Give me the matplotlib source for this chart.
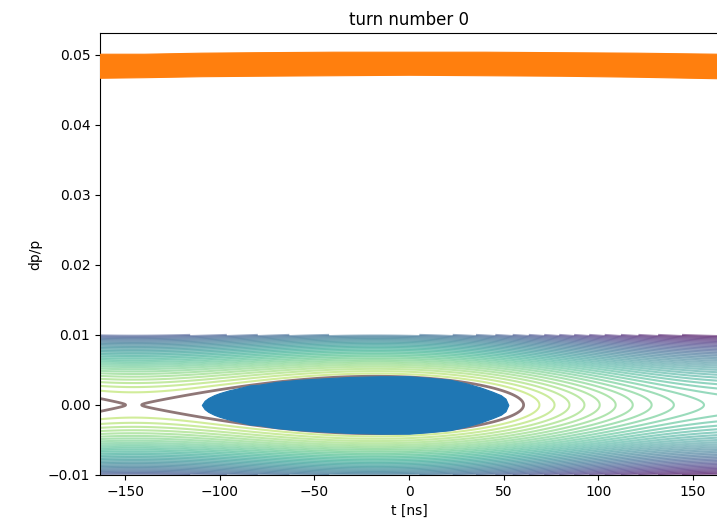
import numpy as np
import matplotlib
matplotlib.use("Agg")
import matplotlib.pyplot as plt
from matplotlib.colors import Normalize

# ---------------- data ----------------
# RF bucket model parameters (read from separatrix geometry)
rf_period_ns = 329.0      # distance between unstable fixed points
phi_s = 0.35              # synchronous phase [rad]
t_center = -17.7          # stable fixed point [ns]
dp_sep = 0.0041           # separatrix half height
sep_gap = 0.0031          # separatrix level offset below saddle (open X-point)
n_levels = 42             # contour levels above the separatrix
t_range = (-163.3, 163.3)
dp_range = (-0.01, 0.01)

# blue particle cloud outline (t [ns], half height in dp/p)
blob_t = [-109.5, -108.0, -106.0, -103.0, -100.0, -95.0, -90.0, -84.0, -79.0,
          -70.0, -58.0, -45.0, -31.0, -15.0, 0.0, 10.0, 21.8, 30.0, 37.8,
          44.0, 48.5, 51.0, 52.5]
blob_h = [0.0, 0.0006, 0.0010, 0.0014, 0.0017, 0.0021, 0.0024, 0.0028, 0.0029,
          0.0033, 0.0036, 0.0038, 0.0040, 0.0041, 0.0041, 0.0039, 0.0036, 0.0031, 0.0025,
          0.0019, 0.0014, 0.0009, 0.0]

# orange particle band (t [ns], lower / upper dp/p)
band_t = [-163.3, -140.0, -110.0, -80.0, -40.0, 0.0, 40.0, 80.0, 120.0, 163.3]
band_lo = [0.04671, 0.04679, 0.04693, 0.04700, 0.04707, 0.04714, 0.04707, 0.04700, 0.04686, 0.04664]
band_hi = [0.05014, 0.05014, 0.05029, 0.05036, 0.05043, 0.05043, 0.05043, 0.05036, 0.05029, 0.05014]

x_ticks = [-150, -100, -50, 0, 50, 100, 150]
y_ticks = [-0.01, 0.00, 0.01, 0.02, 0.03, 0.04, 0.05]

# ---------------- Hamiltonian field ----------------
omega = 2 * np.pi / rf_period_ns
sin_s = np.sin(phi_s)

def potential(t):
    phi = phi_s - omega * (np.asarray(t) - t_center)
    return -np.cos(phi) - phi * sin_s

f_min = potential(t_center)
t_x = t_center - (np.pi - 2 * phi_s) / omega
f_x = potential(t_x)
A = (f_x - f_min) / dp_sep ** 2

tt = np.linspace(t_range[0], t_range[1], 500)
dd = np.linspace(dp_range[0], dp_range[1], 300)
T, D = np.meshgrid(tt, dd)
H = A * D ** 2 + potential(T)
levels = np.linspace(f_x, H.max(), n_levels)[1:]

# ---------------- plot ----------------
fig = plt.figure(figsize=(7.17, 5.30), dpi=100)
ax = fig.add_axes([100 / 717, 55 / 530, 618 / 717, 442 / 530])

ax.contour(T, D, H, levels=levels, cmap="viridis_r", norm=Normalize(f_min, H.max()),
           alpha=0.5, linewidths=1.5, linestyles="solid", zorder=1)
ax.contour(T, D, H, levels=[f_x - sep_gap], colors="#8f7777", linewidths=2.0,
           linestyles="solid", zorder=2)

bt = np.array(blob_t)
bh = np.array(blob_h)
ax.fill_between(bt, -bh, bh, color="#1f77b4", linewidth=0.8, edgecolor="#1f77b4", zorder=3)
ax.fill_between(band_t, band_lo, band_hi, color="#ff7f0e", linewidth=0.8, edgecolor="#ff7f0e", zorder=3)

ax.set_xlim(t_range)
ax.set_ylim(-0.01, 0.0531)
ax.set_xticks(x_ticks)
ax.set_yticks(y_ticks)
ax.set_xlabel("t [ns]")
ax.set_ylabel("dp/p")
ax.set_title("turn number 0")

fig.savefig("out.png", dpi=100)
